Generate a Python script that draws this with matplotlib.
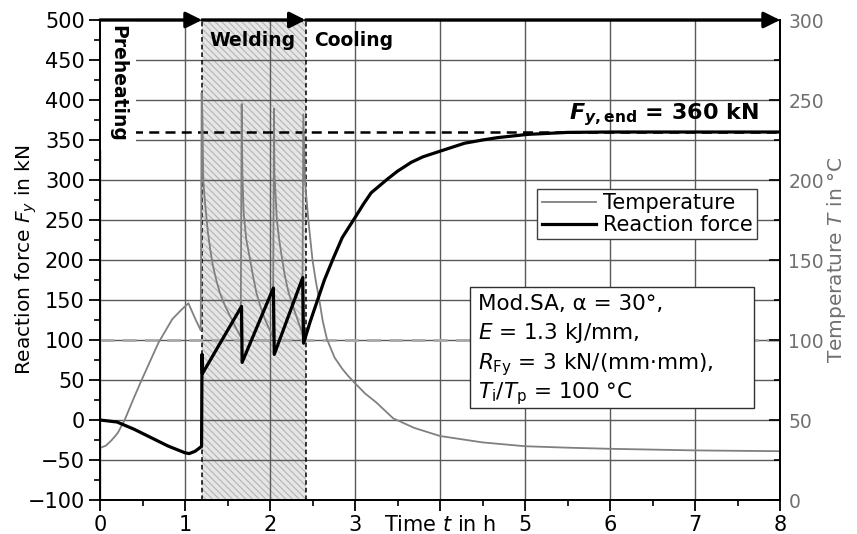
import matplotlib
matplotlib.use("Agg")
import matplotlib.pyplot as plt
from matplotlib.ticker import MultipleLocator, FixedLocator, FixedFormatter
from matplotlib.lines import Line2D
from matplotlib.patches import Rectangle

# ---------------- data ----------------
time_temp = [0, 0.07, 0.13, 0.18, 0.21, 0.29, 0.40, 0.49, 0.60, 0.69, 0.85, 0.95, 1.04, 1.11, 1.185,
             1.196, 1.205, 1.215, 1.235, 1.27, 1.30, 1.33, 1.37, 1.41, 1.47, 1.53, 1.59, 1.655,
             1.667, 1.675, 1.69, 1.72, 1.765, 1.80, 1.84, 1.89, 1.94, 1.99, 2.035,
             2.047, 2.052, 2.08, 2.107, 2.137, 2.17, 2.21, 2.26, 2.31, 2.38,
             2.392, 2.41, 2.45, 2.50, 2.54, 2.58, 2.62, 2.67, 2.76, 2.85, 2.92, 3.0, 3.12,
             3.25, 3.45, 3.7, 4.0, 4.5, 5.0, 5.5, 6.0, 7.0, 8.0]
temperature = [32.5, 34, 37, 40, 42, 50, 64, 75, 88, 98.5, 113, 118.5, 123, 114.5, 106,
               254.5, 240, 200, 186, 167, 155.5, 146, 137, 129.5, 121.5, 115, 108.5, 102,
               247.5, 204.5, 179.5, 163, 150.5, 140, 129.5, 120.5, 113, 107, 102,
               244.5, 204.5, 175.5, 163, 152.5, 141.5, 131.5, 122.5, 115, 104,
               241, 200.5, 175.5, 150, 136.5, 125, 112, 100.5, 89, 82, 77.5, 73, 66.5,
               61, 51, 45, 40, 36, 33.6, 32.7, 32, 31, 30.5]

time_force = [0, 0.2, 0.4, 0.6, 0.8, 1.0, 1.05, 1.12, 1.195, 1.2, 1.205, 1.665, 1.672,
              2.04, 2.05, 2.385, 2.395, 2.47, 2.55, 2.64, 2.74, 2.85, 3.0, 3.1, 3.19,
              3.38, 3.5, 3.66, 3.8, 4.0, 4.29, 4.5, 4.68, 5.03, 5.5, 6.0, 7.0, 8.0]
force = [0, -2.5, -11.5, -22, -32.5, -41, -42, -39, -33, 82, 58, 142, 72,
         165, 82, 178, 96, 122, 147, 175, 201, 228, 253, 270, 284,
         301, 311, 322, 329, 336, 346, 350, 353, 357, 359.5, 360, 360, 360]

x_ticks = [0, 1, 2, 3, 4, 5, 6, 7, 8]
x_tick_labels = ["0", "1", "2", "3", "Time $t$ in h", "5", "6", "7", "8"]
force_ticks = [-100, -50, 0, 50, 100, 150, 200, 250, 300, 350, 400, 450, 500]
temp_ticks = [0, 50, 100, 150, 200, 250, 300]

f_end = 360
t_interpass = 100
weld_start, weld_end = 1.2, 2.42
phase_arrows = [(0, weld_start), (weld_start, weld_end), (weld_end, 8)]
phase_labels = ["Preheating", "Welding", "Cooling"]
legend_labels = ["Temperature", "Reaction force"]
info_lines = ["Mod.SA, α = 30°,",
              "$E$ = 1.3 kJ/mm,",
              r"$R_{\mathrm{Fy}}$ = 3 kN/(mm·mm),",
              r"$T_{\mathrm{i}}/T_{\mathrm{p}}$ = 100 °C"]

# ---------------- figure ----------------
plt.rcParams["font.family"] = ["DejaVu Sans"]
plt.rcParams["hatch.color"] = "#b4b4b4"
plt.rcParams["hatch.linewidth"] = 0.8

fig = plt.figure(figsize=(8.57, 5.34), dpi=100)
ax = fig.add_axes([100 / 857, 34 / 534, 680 / 857, 480 / 534])
ax2 = ax.twinx()

ax.set_xlim(0, 8)
ax.set_ylim(-100, 500)
ax2.set_ylim(0, 300)

# hatch welding zone
ax.axvspan(weld_start, weld_end, facecolor="#e6e6e6", edgecolor="#b4b4b4",
           hatch="\\\\\\\\\\", lw=0, zorder=0.3)

# grid
ax.set_axisbelow(True)
ax.grid(True, which="major", color="#5a5a5a", lw=1.0)

# ticks
ax.xaxis.set_major_locator(FixedLocator(x_ticks))
ax.xaxis.set_major_formatter(FixedFormatter(x_tick_labels))
ax.xaxis.set_minor_locator(MultipleLocator(0.5))
ax.yaxis.set_major_locator(FixedLocator(force_ticks))
ax.yaxis.set_minor_locator(MultipleLocator(25))
ax.tick_params(axis="both", which="major", direction="out", length=8, width=1.3,
               labelsize=15, colors="black", pad=3)
ax.tick_params(axis="both", which="minor", direction="out", length=4.5, width=1.2)
ax2.yaxis.set_major_locator(FixedLocator(temp_ticks))
ax2.yaxis.set_minor_locator(MultipleLocator(25))
ax2.tick_params(axis="y", which="major", direction="in", length=8, width=1.2,
                labelsize=13.5, labelcolor="#707070", pad=6)
ax2.tick_params(axis="y", which="minor", direction="in", length=4.5, width=1.2)

for a in (ax, ax2):
    a.spines["top"].set_visible(False)
    for s in ("left", "right", "bottom"):
        a.spines[s].set_linewidth(1.3)
        a.spines[s].set_color("black")

ax.set_ylabel("Reaction force $F_{y}$ in kN", fontsize=14.5)
ax.yaxis.set_label_coords(-0.09, 0.5)
ax2.set_ylabel("Temperature $T$ in °C", fontsize=14.5, color="#707070", labelpad=1)

# reference lines
ax.axhline(f_end, color="black", ls=(0, (4, 2.5)), lw=1.8, zorder=2)
ax2.axhline(t_interpass, color="#a8a8a8", ls=(0, (5, 3)), lw=2.0, zorder=1.5)
for xb in (weld_start, weld_end):
    ax.axvline(xb, color="black", ls=(0, (3, 2)), lw=1.1, zorder=2.2)

# data curves
ax2.plot(time_temp, temperature, color="#808080", lw=1.3, zorder=2)
ax2.plot(time_force, force, transform=ax.transData, color="black", lw=2.3, zorder=3)
ax2.set_xlim(0, 8)
ax2.set_ylim(0, 300)

# phase arrows on top
for x0, x1 in phase_arrows:
    ax2.annotate("", xy=(x1, 300), xytext=(x0, 300), xycoords="data",
                 arrowprops=dict(arrowstyle="-|>", color="black", lw=2.4,
                                 mutation_scale=24, shrinkA=0, shrinkB=0),
                 annotation_clip=False, zorder=10)

# phase labels
ax.text(0.21, 494, phase_labels[0], rotation=-90, ha="center", va="top",
        fontsize=13.5, fontweight="bold", zorder=2.4,
        bbox=dict(facecolor="white", edgecolor="none", pad=6))
ax.text(1.29, 475, phase_labels[1], ha="left", va="center", fontsize=13.5,
        fontweight="bold", zorder=4)
ax.text(2.52, 475, phase_labels[2], ha="left", va="center", fontsize=13.5,
        fontweight="bold", zorder=4)

fend_label = r"$\mathbfit{F}_{\mathbfit{y}\mathbf{,end}}$" + " = %d kN" % f_end
fend_text = ax.text(7.75, 376, fend_label, ha="right", va="baseline",
                    fontsize=16, fontweight="bold", zorder=4)
try:
    fig.canvas.draw()
except Exception:
    fend_text.set_text(r"$F_{y,\mathrm{end}}$" + " = %d kN" % f_end)

# legend
handles = [Line2D([], [], color="#808080", lw=1.3),
           Line2D([], [], color="black", lw=2.3)]
leg = ax2.legend(handles, legend_labels, loc="upper right",
                 bbox_to_anchor=(0.966, 0.648), borderaxespad=0, fontsize=15,
                 frameon=True, fancybox=False, framealpha=1, edgecolor="#404040",
                 handlelength=2.6, handletextpad=0.35, borderpad=0.2,
                 labelspacing=0.1)
leg.get_frame().set_linewidth(1.0)
leg.set_zorder(8)

# info box
ax2.add_patch(Rectangle((0.544, 0.192), 0.418, 0.252, transform=ax2.transAxes,
                        facecolor="white", edgecolor="#303030", lw=1.0, zorder=7))
for i, (line, yb) in enumerate(zip(info_lines, [0.396, 0.335, 0.273, 0.2125])):
    ax2.text(0.556, yb, line, transform=ax2.transAxes, ha="left", va="baseline",
             fontsize=15.5, zorder=8)

fig.savefig("out.png", dpi=100)
